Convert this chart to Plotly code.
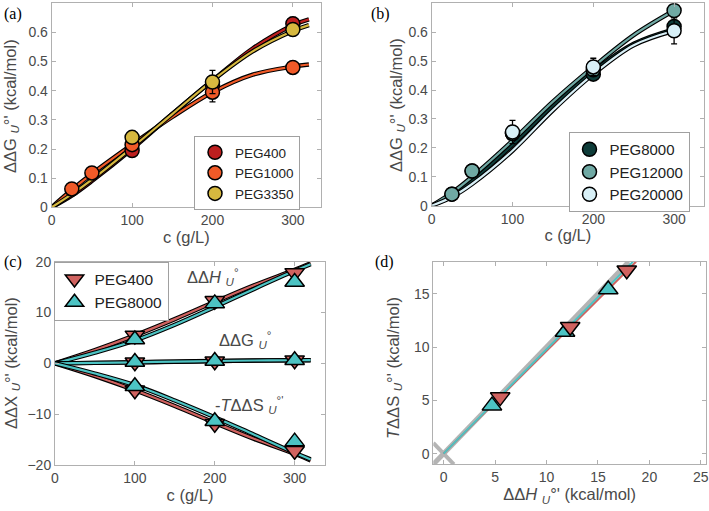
import plotly.graph_objects as go

# ---------------- data ----------------
# panel (a)
peg400_a_c = [100, 200, 300]
peg400_a_y = [0.195, 0.42, 0.63]
peg400_a_err = [0.01, 0.02, 0.022]
peg1000_a_c = [25, 50, 100, 200, 300]
peg1000_a_y = [0.063, 0.118, 0.215, 0.395, 0.48]
peg1000_a_err = [0.008, 0.008, 0.01, 0.033, 0.01]
peg3350_a_c = [100, 200, 300]
peg3350_a_y = [0.24, 0.43, 0.61]
peg3350_a_err = [0.01, 0.04, 0.02]
fit_a_c = [0, 25, 50, 100, 150, 200, 250, 300, 320]
fit_peg400_a = [0, 0.04, 0.09, 0.20, 0.32, 0.435, 0.545, 0.625, 0.645]
fit_peg1000_a = [0, 0.06, 0.115, 0.215, 0.31, 0.395, 0.455, 0.483, 0.49]
fit_peg3350_a = [0, 0.045, 0.095, 0.205, 0.32, 0.435, 0.535, 0.605, 0.625]

# panel (b)
peg8000_b_c = [25, 50, 100, 200, 300]
peg8000_b_y = [0.04, 0.12, 0.25, 0.455, 0.62]
peg8000_b_err = [0.005, 0.01, 0.02, 0.015, 0.02]
peg12000_b_c = [25, 50, 100, 200, 300]
peg12000_b_y = [0.04, 0.12, 0.25, 0.47, 0.675]
peg12000_b_err = [0.005, 0.01, 0.02, 0.02, 0.01]
peg20000_b_c = [100, 200, 300]
peg20000_b_y = [0.255, 0.48, 0.605]
peg20000_b_err = [0.04, 0.03, 0.045]
fit_b_c = [0, 25, 50, 100, 150, 200, 250, 300]
fit_peg8000_b = [0, 0.035, 0.085, 0.21, 0.345, 0.465, 0.56, 0.61]
fit_peg12000_b = [0, 0.045, 0.10, 0.225, 0.36, 0.48, 0.59, 0.675]
fit_peg20000_b = [0, 0.03, 0.075, 0.19, 0.33, 0.455, 0.555, 0.605]

# panel (c)
c_pts = [100, 200, 300]
dH_400 = [5.5, 12.3, 17.8]
dG_400 = [0.2, 0.42, 0.63]
mTdS_400 = [-5.3, -11.9, -17.2]
dH_8000 = [4.7, 11.8, 16.0]
dG_8000 = [0.25, 0.46, 0.62]
mTdS_8000 = [-4.5, -11.4, -15.4]
err_dH = [0.5, 0.6, 0.7]
err_dG = [0.05, 0.05, 0.05]
err_mTdS = [0.5, 0.6, 0.7]
fit_c_c = [0, 50, 100, 150, 200, 250, 300, 320]
fit_dH_400 = [0, 2.6, 5.5, 8.7, 12.1, 15.4, 18.4, 19.7]
fit_dH_8000 = [0, 2.1, 4.5, 7.6, 11.1, 14.7, 18.2, 19.5]
fit_dG_400 = [0, 0.1, 0.2, 0.32, 0.43, 0.54, 0.62, 0.64]
fit_dG_8000 = [0, 0.09, 0.21, 0.34, 0.46, 0.56, 0.61, 0.62]
fit_mTdS_400 = [0, -2.5, -5.3, -8.4, -11.7, -14.9, -17.8, -19.1]
fit_mTdS_8000 = [0, -2.0, -4.3, -7.3, -10.6, -14.1, -17.6, -18.9]

# panel (d)
tdS_400 = [5.3, 11.9, 17.2]
tdS_8000 = [4.5, 11.4, 15.4]
diag_x = [-1, 18]
diag_y = [-1, 18]
anti_x = [-1, 1]
anti_y = [1, -1]
fit_d_400_x = [0, 18.7]
fit_d_400_y = [0, 18]
fit_d_8000_x = [0, 18.4]
fit_d_8000_y = [0, 18]

# tick values
ticks_c = [0, 100, 200, 300]
ticks_dG = [0, 0.1, 0.2, 0.3, 0.4, 0.5, 0.6]
ticks_dX = [-20, -10, 0, 10, 20]
ticks_dH = [0, 5, 10, 15, 20, 25]
ticks_TdS = [0, 5, 10, 15]

# colours
C400A = "#bd1f1f"
C1000 = "#f05a28"
C3350 = "#d6b83f"
C8000B = "#0e3c39"
C12000 = "#70a9a4"
C20000 = "#d8f0f7"
C400C = "#d0625f"
C8000C = "#4cc3c3"
GRAY = "#b4b4b4"

fig = go.Figure()


def fit(x, y, color, xa, ya, w=2.2):
    fig.add_trace(go.Scatter(x=x, y=y, mode="lines", line=dict(color="black", width=w + 2.2, shape="spline"),
                             xaxis=xa, yaxis=ya, showlegend=False, hoverinfo="skip"))
    fig.add_trace(go.Scatter(x=x, y=y, mode="lines", line=dict(color=color, width=w, shape="spline"),
                             xaxis=xa, yaxis=ya, showlegend=False, hoverinfo="skip"))


def pts(x, y, err, color, name, xa, ya, legend, symbol="circle", size=14, showlegend=True):
    fig.add_trace(go.Scatter(
        x=x, y=y, mode="markers", name=name, xaxis=xa, yaxis=ya, legend=legend,
        showlegend=showlegend,
        marker=dict(symbol=symbol, size=size, color=color, line=dict(color="black", width=1.5)),
        error_y=dict(type="data", array=err, color="black", thickness=1.3, width=3)))


# panel (a)
fit(fit_a_c, fit_peg400_a, C400A, "x", "y")
fit(fit_a_c, fit_peg1000_a, C1000, "x", "y")
fit(fit_a_c, fit_peg3350_a, C3350, "x", "y")
pts(peg400_a_c, peg400_a_y, peg400_a_err, C400A, "PEG400", "x", "y", "legend")
pts(peg1000_a_c, peg1000_a_y, peg1000_a_err, C1000, "PEG1000", "x", "y", "legend")
pts(peg3350_a_c, peg3350_a_y, peg3350_a_err, C3350, "PEG3350", "x", "y", "legend")

# panel (b)
fit(fit_b_c, fit_peg8000_b, C8000B, "x2", "y2")
fit(fit_b_c, fit_peg12000_b, C12000, "x2", "y2")
fit(fit_b_c, fit_peg20000_b, C20000, "x2", "y2")
pts(peg8000_b_c, peg8000_b_y, peg8000_b_err, C8000B, "PEG8000", "x2", "y2", "legend2")
pts(peg12000_b_c, peg12000_b_y, peg12000_b_err, C12000, "PEG12000", "x2", "y2", "legend2")
pts(peg20000_b_c, peg20000_b_y, peg20000_b_err, C20000, "PEG20000", "x2", "y2", "legend2")

# panel (c)
for fx, col in [(fit_dH_400, C400C), (fit_dH_8000, C8000C), (fit_dG_400, C400C), (fit_dG_8000, C8000C),
                (fit_mTdS_400, C400C), (fit_mTdS_8000, C8000C)]:
    fit(fit_c_c, fx, col, "x3", "y3")
first = True
for yv, ev in [(dH_400, err_dH), (dG_400, err_dG), (mTdS_400, err_mTdS)]:
    pts(c_pts, yv, ev, C400C, "PEG400", "x3", "y3", "legend3", symbol="triangle-down", size=17, showlegend=first)
    first = False
first = True
for yv, ev in [(dH_8000, err_dH), (dG_8000, err_dG), (mTdS_8000, err_mTdS)]:
    pts(c_pts, yv, ev, C8000C, "PEG8000", "x3", "y3", "legend3", symbol="triangle-up", size=17, showlegend=first)
    first = False

# panel (d)
fig.add_trace(go.Scatter(x=diag_x, y=diag_y, mode="lines", line=dict(color=GRAY, width=5),
                         xaxis="x4", yaxis="y4", showlegend=False))
fig.add_trace(go.Scatter(x=anti_x, y=anti_y, mode="lines", line=dict(color=GRAY, width=4),
                         xaxis="x4", yaxis="y4", showlegend=False))
fig.add_trace(go.Scatter(x=fit_d_400_x, y=fit_d_400_y, mode="lines", line=dict(color=C400C, width=2),
                         xaxis="x4", yaxis="y4", showlegend=False))
fig.add_trace(go.Scatter(x=fit_d_8000_x, y=fit_d_8000_y, mode="lines", line=dict(color=C8000C, width=2),
                         xaxis="x4", yaxis="y4", showlegend=False))
fig.add_trace(go.Scatter(x=dH_8000, y=tdS_8000, mode="markers", xaxis="x4", yaxis="y4", showlegend=False,
                         marker=dict(symbol="triangle-up", size=17, color=C8000C, line=dict(color="black", width=1.5))))
fig.add_trace(go.Scatter(x=dH_400, y=tdS_400, mode="markers", xaxis="x4", yaxis="y4", showlegend=False,
                         marker=dict(symbol="triangle-down", size=17, color=C400C, line=dict(color="black", width=1.5))))

W, H = 709, 511
FONT = "Liberation Sans, Arial, sans-serif"
TICKF = dict(family=FONT, size=14, color="#4a4a4a")
TITLEF = dict(family=FONT, size=16.5, color="#4a4a4a")


def ax(domain, rng, tickvals, title, anchor, is_x):
    d = dict(domain=domain, range=rng, tickmode="array", tickvals=tickvals, anchor=anchor,
             showline=True, linecolor="#b0b0b0", linewidth=1, mirror="ticks",
             ticks="inside", ticklen=4, tickcolor="#b0b0b0", showgrid=False, zeroline=False,
             tickfont=TICKF, automargin=False, fixedrange=True, ticklabeloverflow="allow")
    if is_x:
        d["title"] = dict(text=title, font=TITLEF, standoff=3)
    return d


def dx(a, b):
    return [a / W, b / W]


def dy(top, bottom):
    return [1 - bottom / H, 1 - top / H]


fig.update_layout(
    width=W, height=H, margin=dict(l=0, r=0, t=0, b=0),
    paper_bgcolor="white", plot_bgcolor="white", template="none",
    xaxis=ax(dx(51.7, 321), [0, 335], ticks_c, "c (g/L)", "y", True),
    yaxis=ax(dy(3.3, 207.3), [0, 0.7], ticks_dG, None, "x", False),
    xaxis2=ax(dx(431.7, 704), [0, 337], ticks_c, "c (g/L)", "y2", True),
    yaxis2=ax(dy(3.3, 205.7), [0, 0.7], ticks_dG, None, "x2", False),
    xaxis3=ax(dx(55, 325), [0, 338], ticks_c, "c (g/L)", "y3", True),
    yaxis3=ax(dy(261.7, 465), [-20, 20], ticks_dX, None, "x3", False),
    xaxis4=ax(dx(433.3, 706), [-1, 25.5], ticks_dH, "ΔΔ<i>H</i> <sub><i>U</i></sub>°' (kcal/mol)", "y4", True),
    yaxis4=ax(dy(261.7, 464.3), [-1, 18], ticks_TdS, None, "x4", False),
    legend=dict(x=247 / W, y=1 - 173 / H, xanchor="center", yanchor="middle",
                bgcolor="white", bordercolor="#a0a0a0", borderwidth=1,
                font=dict(family=FONT, size=13.5, color="#222"), itemwidth=30, tracegroupgap=0),
    legend2=dict(x=629 / W, y=1 - 172 / H, xanchor="center", yanchor="middle",
                 bgcolor="white", bordercolor="#a0a0a0", borderwidth=1,
                 font=dict(family=FONT, size=15, color="#222"), itemwidth=30, tracegroupgap=0),
    legend3=dict(x=111 / W, y=1 - 291 / H, xanchor="center", yanchor="middle",
                 bgcolor="white", bordercolor="#a0a0a0", borderwidth=1,
                 font=dict(family=FONT, size=15.5, color="#222"), itemwidth=30, tracegroupgap=0),
)

# y-axis titles (rotated)
for txt, x, y in [("ΔΔG <sub><i>U</i></sub>°' (kcal/mol)", 11, 106),
                  ("ΔΔG <sub><i>U</i></sub>°' (kcal/mol)", 397, 105),
                  ("ΔΔX <sub><i>U</i></sub>°' (kcal/mol)", 12, 363),
                  ("<i>T</i>ΔΔS <sub><i>U</i></sub>°' (kcal/mol)", 394, 368)]:
    fig.add_annotation(text=txt, x=x / W, y=1 - y / H, xref="paper", yref="paper",
                       xanchor="center", yanchor="middle", textangle=-90, showarrow=False,
                       font=TITLEF)

SERIF = "Liberation Serif, Times New Roman, serif"
for txt, x, y in [("(a)", 2, 14), ("(b)", 369, 14), ("(c)", 2, 262), ("(d)", 373, 262)]:
    fig.add_annotation(text=txt, x=x / W, y=1 - y / H, xref="paper", yref="paper",
                       xanchor="left", yanchor="middle", showarrow=False,
                       font=dict(family=SERIF, size=16, color="black"))

AF = dict(family=FONT, size=16.5, color="#4a4a4a")
fig.add_annotation(text="ΔΔ<i>H</i> <sub><i>U</i></sub><sup>°</sup>", x=163, y=16.9, xref="x3", yref="y3",
                   xanchor="left", yshift=0, showarrow=False, font=AF)
fig.add_annotation(text="ΔΔG <sub><i>U</i></sub><sup>°</sup>", x=203, y=4.0, xref="x3", yref="y3",
                   xanchor="left", yshift=3, showarrow=False, font=AF)
fig.add_annotation(text="-<i>T</i>ΔΔS <sub><i>U</i></sub><sup>°'</sup>", x=198, y=-8.4, xref="x3", yref="y3",
                   xanchor="left", yshift=1, showarrow=False, font=AF)

fig.write_html("out.html", config={"displayModeBar": False},
               post_script="document.body.style.margin='0';document.body.style.padding='0';")
